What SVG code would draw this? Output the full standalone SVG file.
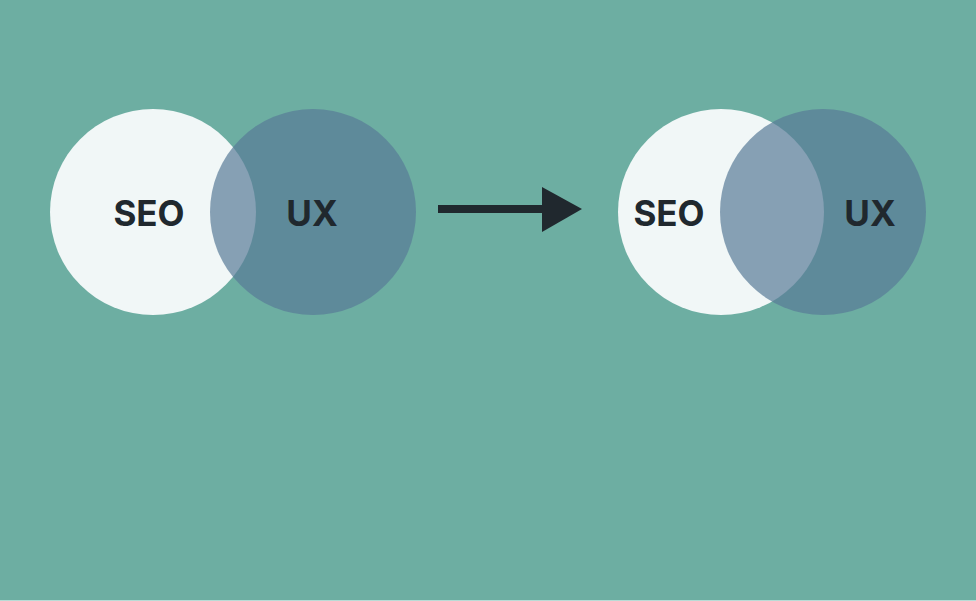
<svg xmlns="http://www.w3.org/2000/svg" width="976" height="601" viewBox="0 0 976 601">
<style>
.seo{fill:#F1F7F7}
.ux{fill:#597B97;fill-opacity:0.7}
.lbl{font-family:Inter,"Liberation Sans",sans-serif;font-weight:700;font-size:35px;fill:#20282E;text-anchor:middle;dominant-baseline:central}
</style>
<rect x="0" y="0" width="976" height="601" fill="#6DAEA2"/>
<rect x="0" y="600" width="976" height="1" fill="#B8DCD6"/>
<g id="before">
<circle class="seo" cx="153" cy="212" r="103"/>
<circle class="ux" cx="313" cy="212" r="103"/>
<text class="lbl" x="149" y="213">SEO</text>
<text class="lbl" x="312" y="213">UX</text>
</g>
<g id="after">
<circle class="seo" cx="721" cy="212" r="103"/>
<circle class="ux" cx="823" cy="212" r="103"/>
<text class="lbl" x="669" y="213">SEO</text>
<text class="lbl" x="870" y="213">UX</text>
</g>
<g id="connectors">
<line x1="438" y1="209" x2="545" y2="209" stroke="#20282E" stroke-width="8"/>
<polygon points="542,187 582,209 542,232" fill="#20282E"/>
</g>
</svg>
